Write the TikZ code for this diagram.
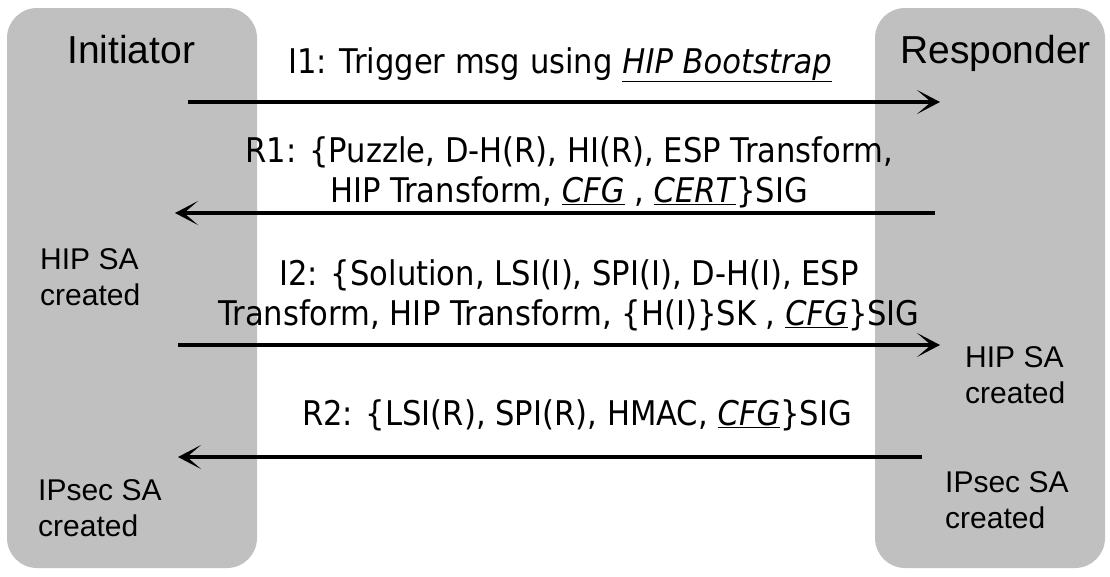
\documentclass[tikz,border=0pt]{standalone}
\usepackage{fontspec}
\setmainfont{Liberation Sans}
\newfontfamily\msgfont[FakeStretch=0.9]{DejaVu Sans}
\usepackage{xcolor}
\usetikzlibrary{arrows.meta,positioning}
\definecolor{lanegray}{RGB}{192,192,192}
\tikzset{
  lane/.style={fill=lanegray,rounded corners=30pt,minimum height=560pt,inner sep=0pt},
  title/.style={font=\fontsize{39}{47}\selectfont,anchor=base west,inner sep=0pt},
  sanote/.style={font=\fontsize{30}{36}\selectfont,align=left,anchor=base west,inner sep=0pt},
  msg/.style={font=\msgfont\fontsize{34}{40}\selectfont,align=center,anchor=base,inner sep=0pt},
  flow/.style={line width=4pt,-{Stealth[length=23pt,width=24pt,inset=14pt]}}
}
\newcommand{\ulit}[1]{\underline{\textit{#1}}}

\begin{document}
\begin{tikzpicture}[x=1pt,y=-1pt]
\useasboundingbox (0,0) rectangle (1110,576);
\node[lane,minimum width=250pt] (ini) at (132,288) {}; \node[lane,minimum width=230pt] (res) at (990,288) {};
\node[title] (initl) at (67,63) {Initiator}; \node[title] (resl) at (900,63) {Responder};
\coordinate (i1a) at (188,102); \coordinate (i1b) at (940,102); \coordinate (r1a) at (935,213); \coordinate (r1b) at (175,213);
\coordinate (i2a) at (178,345); \coordinate (i2b) at (940,345); \coordinate (r2a) at (922,457); \coordinate (r2b) at (178,457);
\draw[flow] (i1a)--(i1b); \draw[flow] (r1a)--(r1b); \draw[flow] (i2a)--(i2b); \draw[flow] (r2a)--(r2b);
\node[msg] (i1) at (560,73) {I1: Trigger msg using \ulit{HIP Bootstrap}};
\node[msg] (r1) at (569,202) {R1: \{Puzzle, D-H(R), HI(R), ESP Transform,\\HIP Transform, \ulit{CFG} , \ulit{CERT}\}SIG};
\node[msg] (i2) at (569,325) {I2: \{Solution, LSI(I), SPI(I), D-H(I), ESP\\Transform, HIP Transform, \{H(I)\}SK , \ulit{CFG}\}SIG};
\node[msg] (r2) at (577,425) {R2: \{LSI(R), SPI(R), HMAC, \ulit{CFG}\}SIG};
\node[sanote] (hipl) at (40,305) {HIP SA\\created}; \node[sanote] (hipr) at (965,403) {HIP SA\\created};
\node[sanote] (ipsl) at (38,536) {IPsec SA\\created}; \node[sanote] (ipsr) at (945,528) {IPsec SA\\created};
\end{tikzpicture}
\end{document}
